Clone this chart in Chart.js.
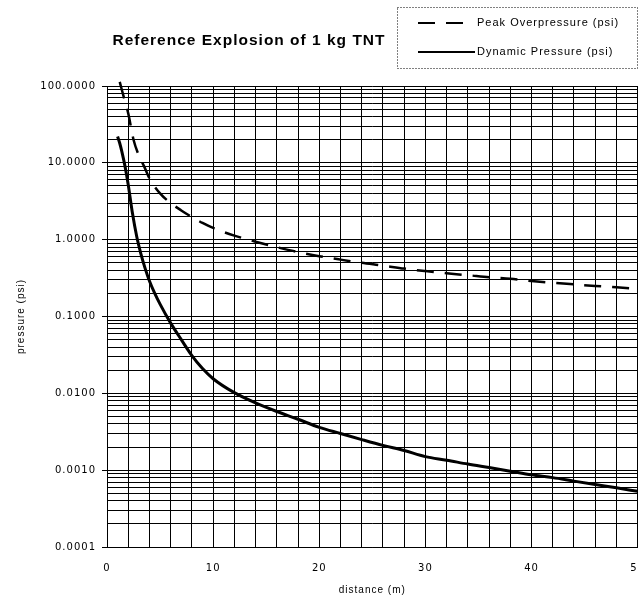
<!DOCTYPE html>
<html>
<head>
<meta charset="utf-8">
<script src="https://cdn.jsdelivr.net/npm/chart.js@4.4.1/dist/chart.umd.min.js"></script>
<style>
html, body { margin: 0; padding: 0; background: #fff; overflow: hidden; }
#wrap { position: absolute; left: 0; top: 0; width: 660px; height: 603px; }
</style>
</head>
<body>
<div id="wrap"><canvas id="myChart" width="660" height="603"></canvas></div>
<script>
// distances (m) and pressures (psi)
var distPeak = [1.2, 1.6, 2, 2.5, 3, 3.5, 4, 5, 6, 7, 8, 9, 10, 12, 14, 16, 18, 20, 22, 24, 26, 28, 30, 32, 34, 36, 38, 40, 42, 44, 46, 48, 50];
var peakOverpressure = [113, 70, 44, 20, 12.5, 9.0, 6.3, 4.0, 3.0, 2.4, 1.97, 1.65, 1.42, 1.13, 0.94, 0.80, 0.69, 0.61, 0.55, 0.50, 0.46, 0.42, 0.39, 0.365, 0.345, 0.325, 0.31, 0.29, 0.275, 0.262, 0.25, 0.24, 0.23];

var distDyn = [1.0, 1.2, 1.4, 1.7, 2.0, 2.4, 2.8, 3.2, 3.6, 4, 4.5, 5, 6, 7, 8, 9, 10, 12, 14, 16, 18, 20, 22, 24, 26, 28, 30, 32, 34, 36, 38, 40, 42, 44, 46, 48, 50];
var dynamicPressure = [22, 18, 14, 9, 5.2, 2.2, 1.1, 0.65, 0.42, 0.29, 0.2, 0.145, 0.082, 0.05, 0.031, 0.021, 0.0155, 0.0102, 0.0075, 0.0058, 0.0046, 0.0036, 0.003, 0.0025, 0.0021, 0.0018, 0.0015, 0.00135, 0.0012, 0.00108, 0.00097, 0.00087, 0.0008, 0.00072, 0.00065, 0.00059, 0.00053];

var seriesNames = ['Peak Overpressure (psi)', 'Dynamic Pressure (psi)'];
var yTickLabels = ['0.0001', '0.0010', '0.0100', '0.1000', '1.0000', '10.0000', '100.0000'];
var xTickLabels = [0, 10, 20, 30, 40, 50];

function toPoints(xs, ys) {
  var pts = [];
  for (var i = 0; i < xs.length; i++) {
    pts.push({ x: xs[i], y: ys[i] });
  }
  return pts;
}

// titre + légende dessinés à la main (position libre comme dans l'original)
var titreLegende = {
  id: 'titreLegende',
  beforeUpdate: function (chart) { chart.ctx.letterSpacing = '1px'; },
  beforeDraw: function (chart) { chart.ctx.letterSpacing = '1px'; },
  afterDraw: function (chart) {
    var c = chart.ctx;
    c.save();
    c.fillStyle = '#000';
    c.textBaseline = 'middle';
    c.textAlign = 'center';
    c.letterSpacing = '1px';
    c.font = 'bold 15.5px "Liberation Sans", Arial, sans-serif';
    c.fillText('Reference Explosion of 1 kg TNT', 249, 41);

    // cadre pointillé
    c.strokeStyle = '#000';
    c.lineWidth = 1;
    c.setLineDash([1, 2]);
    c.strokeRect(397.5, 7.5, 240, 61);

    var sets = chart.data.datasets;
    var ys = [23, 52];
    c.textAlign = 'left';
    c.font = '11px "Liberation Sans", Arial, sans-serif';
    for (var i = 0; i < sets.length; i++) {
      c.setLineDash(sets[i].borderDash || []);
      c.lineWidth = 2;
      c.beginPath();
      c.moveTo(418, ys[i]);
      c.lineTo(i === 0 ? 468 : 475, ys[i]);
      c.stroke();
      c.fillText(sets[i].label, 477, ys[i]);
    }
    c.restore();
  }
};

var ctx = document.getElementById('myChart');
new Chart(ctx, {
  type: 'line',
  data: {
    datasets: [
      {
        label: seriesNames[0],
        data: toPoints(distPeak, peakOverpressure),
        borderColor: '#000',
        borderWidth: 2.5,
        borderDash: [17, 11],
        pointRadius: 0,
        cubicInterpolationMode: 'monotone',
        clip: { left: 0, top: 8, right: 2, bottom: 0 }
      },
      {
        label: seriesNames[1],
        data: toPoints(distDyn, dynamicPressure),
        borderColor: '#000',
        borderWidth: 3,
        pointRadius: 0,
        cubicInterpolationMode: 'monotone',
        clip: { left: 0, top: 8, right: 2, bottom: 0 }
      }
    ]
  },
  options: {
    responsive: false,
    animation: false,
    layout: { padding: { top: 86, left: 0, right: 0, bottom: 0 } },
    plugins: {
      legend: { display: false },
      tooltip: { enabled: false },
      title: { display: false }
    },
    scales: {
      x: {
        type: 'linear',
        min: 0,
        max: 50,
        afterFit: function (s) { s.height = 56; },
        ticks: {
          stepSize: 2,
          autoSkip: false,
          maxRotation: 0,
          padding: 15,
          color: '#000',
          font: { family: '"DejaVu Sans", sans-serif', size: 10 },
          callback: function (v) { return xTickLabels.indexOf(v) >= 0 ? String(v) : ''; }
        },
        grid: { color: '#000', lineWidth: 1, drawTicks: false },
        border: { color: '#000', width: 1 },
        title: {
          display: true,
          text: 'distance (m)',
          color: '#000',
          font: { family: '"Liberation Sans", Arial, sans-serif', size: 10 },
          padding: { top: 0, bottom: 7 }
        }
      },
      y: {
        type: 'logarithmic',
        min: 0.0001,
        max: 100,
        afterFit: function (s) { s.width = 107; },
        afterBuildTicks: function (s) {
          var t = [];
          for (var e = -4; e <= 1; e++) {
            for (var k = 1; k <= 9; k++) {
              t.push({ value: parseFloat((k * Math.pow(10, e)).toPrecision(6)), major: k === 1 });
            }
          }
          t.push({ value: 100, major: true });
          s.ticks = t;
        },
        ticks: {
          autoSkip: false,
          padding: 6,
          color: '#000',
          font: { family: '"DejaVu Sans", sans-serif', size: 10 },
          callback: function (v) {
            var p = Math.log10(v);
            if (Math.abs(p - Math.round(p)) < 1e-6) return yTickLabels[Math.round(p) + 4];
            return '';
          }
        },
        grid: {
          color: '#000',
          lineWidth: 1,
          tickLength: 5,
          tickColor: function (c) { return c.tick && c.tick.major ? '#000' : 'rgba(0,0,0,0)'; }
        },
        border: { color: '#000', width: 1 },
        title: {
          display: true,
          text: 'pressure (psi)',
          color: '#000',
          font: { family: '"Liberation Sans", Arial, sans-serif', size: 10 },
          padding: { top: 15, bottom: 0 }
        }
      }
    }
  },
  plugins: [titreLegende]
});
</script>
</body>
</html>
